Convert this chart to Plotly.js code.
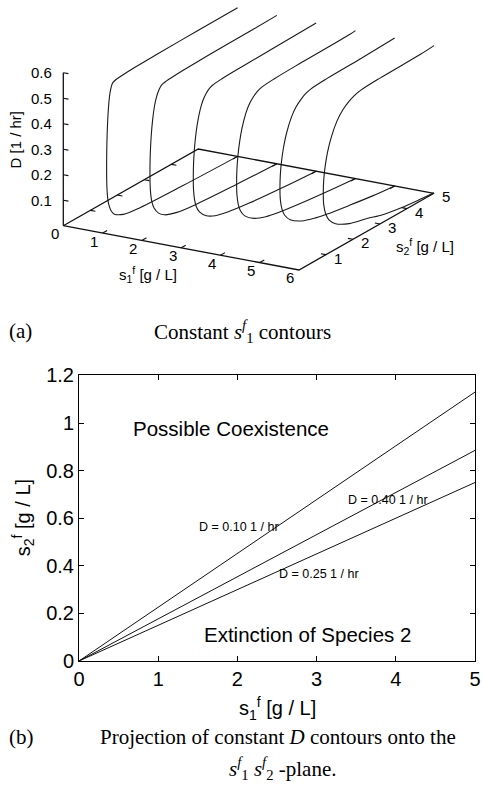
<!DOCTYPE html>
<html><head><meta charset="utf-8">
<script src="https://cdn.plot.ly/plotly-3.0.1.min.js"></script>
<style>html,body{margin:0;padding:0;background:#fff}#chart{width:483px;height:788px}</style>
</head><body><div id="chart"></div>
<script>
// ================= DATA =================
// ---- (a) constant s1f contours in (s1f, s2f, D) space ----
const s1Levels = [1, 2, 3, 4, 5, 6];                      // s1f of each contour [g/L]
// lower branch of each contour, from the back edge (s2f = 5) down to the bottom of the curve
const lowerS2 = [[5, 3.0, 1.4, 0.77], [5, 3.5, 2.0, 1.3], [5, 3.8, 2.5, 1.7],
                 [5, 4.0, 3.0, 2.1], [5, 4.2, 3.3, 2.5], [5, 4.4, 3.74, 3.1]];
const lowerD  = [[0, 0.007, 0.016, 0.027], [0, 0.009, 0.021, 0.032], [0, 0.010, 0.024, 0.037],
                 [0, 0.011, 0.024, 0.039], [0, 0.010, 0.025, 0.040], [0.002, 0.008, 0.017, 0.030]];
// rest of each contour (vertical part and upper branch): D and the ratio s2f / s1f
const profileD     = [0.05, 0.07, 0.10, 0.13, 0.16, 0.20, 0.25, 0.30, 0.35, 0.40, 0.45, 0.50, 0.53,
                      0.55, 0.56, 0.567, 0.572, 0.575, 0.578, 0.580, 0.582];
const profileRatio = [0.42, 0.31, 0.226, 0.185, 0.165, 0.153, 0.150, 0.153, 0.162, 0.177, 0.200, 0.235, 0.270,
                      0.310, 0.340, 0.380, 0.500, 0.750, 1.200, 2.000, 3.500];
const upperEndD = [0.583, 0.582, 0.581, 0.580, 0.580, 0.579];  // D where each contour leaves the box (s2f = 5)
const s1Range = [0, 6];
const s2Range = [0, 5];
const dRange  = [0, 0.6];
const s1TickVals = [0, 1, 2, 3, 4, 5, 6];
const s2TickVals = [1, 2, 3, 4, 5];
const dTickVals  = [0.1, 0.2, 0.3, 0.4, 0.5, 0.6];

// ---- (b) projection of constant D contours onto the s1f-s2f plane ----
const lineLabels = ['D = 0.10 1 / hr', 'D = 0.40 1 / hr', 'D = 0.25 1 / hr'];
const lineS1     = [0, 5];
const lineS2End  = [1.13, 0.885, 0.75];                   // s2f reached at s1f = 5
const labelS1    = [2.02, 3.90, 3.03];
const labelS2    = [0.564, 0.676, 0.364];

// ================= 3-D view (orthographic projection onto a hidden 2-D axis pair) =================
const EX = [39.28, 7.38];    // screen step per unit s1f (right, down)
const EY = [27.0, -15.34];   // screen step per unit s2f
const EZ = 255;              // screen step (up) per unit D
function P(s1, s2, d) { return [s1 * EX[0] + s2 * EY[0], -(s1 * EX[1] + s2 * EY[1]) + d * EZ]; }
function addPath(xs, ys, pts) { pts.forEach(p => { const q = P(p[0], p[1], p[2]); xs.push(q[0]); ys.push(q[1]); }); xs.push(null); ys.push(null); }

const sans = 'Liberation Sans, Arial, sans-serif';
const serif = 'Liberation Serif, Times New Roman, serif';
const traces = [];

// contours
s1Levels.forEach((s1, i) => {
  const pts = [];
  lowerS2[i].forEach((s2, j) => pts.push([s1, s2, lowerD[i][j]]));
  profileD.forEach((d, j) => { const s2 = s1 * profileRatio[j]; if (s2 < s2Range[1]) pts.push([s1, s2, d]); });
  pts.push([s1, s2Range[1], upperEndD[i]]);
  const xs = [], ys = [];
  pts.forEach(p => { const q = P(p[0], p[1], p[2]); xs.push(q[0]); ys.push(q[1]); });
  traces.push({type: 'scatter', mode: 'lines', x: xs, y: ys, xaxis: 'x2', yaxis: 'y2',
    line: {color: '#1a1a1a', width: 1.1, shape: 'spline', smoothing: 0.9}, hoverinfo: 'skip'});
});

// base frame, vertical D axis and tick marks
const fx = [], fy = [];
addPath(fx, fy, [[s1Range[0], s2Range[0], 0], [s1Range[1], s2Range[0], 0], [s1Range[1], s2Range[1], 0],
                 [s1Range[0], s2Range[1], 0], [s1Range[0], s2Range[0], 0]]);
addPath(fx, fy, [[s1Range[0], s2Range[0], dRange[0]], [s1Range[0], s2Range[0], dRange[1]]]);
traces.push({type: 'scatter', mode: 'lines', x: fx, y: fy, xaxis: 'x2', yaxis: 'y2',
  line: {color: '#111', width: 1.3}, hoverinfo: 'skip'});
const tx = [], ty = [];
const tl1 = 0.13, tl2 = 0.17, tlD = 0.13;
s1TickVals.filter(v => v > s1Range[0] && v < s1Range[1]).forEach(v => {
  addPath(tx, ty, [[v, s2Range[0], 0], [v, s2Range[0] + tl2, 0]]);
  addPath(tx, ty, [[v, s2Range[1], 0], [v, s2Range[1] - tl2, 0]]);
});
s2TickVals.filter(v => v > s2Range[0] && v < s2Range[1]).forEach(v => {
  addPath(tx, ty, [[s1Range[1], v, 0], [s1Range[1] - tl1, v, 0]]);
  addPath(tx, ty, [[s1Range[0], v, 0], [s1Range[0] + tl1, v, 0]]);
});
dTickVals.forEach(v => addPath(tx, ty, [[s1Range[0], s2Range[0], v], [s1Range[0] + tlD, s2Range[0], v]]));
traces.push({type: 'scatter', mode: 'lines', x: tx, y: ty, xaxis: 'x2', yaxis: 'y2',
  line: {color: '#111', width: 1.1}, hoverinfo: 'skip'});

// (b) lines
lineS2End.forEach(e => traces.push({type: 'scatter', mode: 'lines', x: lineS1, y: [0, e], xaxis: 'x', yaxis: 'y',
  line: {color: '#111', width: 1}, hoverinfo: 'skip'}));

// ================= texts =================
const annotations = [];
function lab3(pt, text, xs, ys, opts) {
  const q = P(pt[0], pt[1], pt[2]);
  annotations.push(Object.assign({xref: 'x2', yref: 'y2', x: q[0], y: q[1], xshift: xs, yshift: ys, text: text,
    showarrow: false, font: {family: sans, size: 15, color: '#000'}}, opts || {}));
}
s1TickVals.forEach(v => lab3([v, s2Range[0], 0], String(v), -8.5, -8));
s2TickVals.forEach(v => lab3([s1Range[1], v, 0], String(v), 12.5, -3.5));
dTickVals.forEach(v => lab3([s1Range[0], s2Range[0], v], v.toFixed(1), -9.5, 0, {xanchor: 'right'}));
lab3([s1Range[0], s2Range[0], (dRange[0] + dRange[1]) / 2], 'D [1 / hr]', -48, 10, {textangle: -90});
lab3([(s1Range[0] + s1Range[1]) / 2, s2Range[0], 0], 's<sub>1</sub><sup>f</sup> [g / L]', -33, -27);
lab3([s1Range[1], (s2Range[0] + s2Range[1]) / 2, 0], 's<sub>2</sub><sup>f</sup> [g / L]', 59, -15);

lineLabels.forEach((t, i) => annotations.push({xref: 'x', yref: 'y', x: labelS1[i], y: labelS2[i], text: t,
  showarrow: false, font: {family: sans, size: 12.5, color: '#000'}}));
annotations.push({xref: 'x', yref: 'y', x: 1.925, y: 0.979, text: 'Possible Coexistence', showarrow: false,
  font: {family: sans, size: 20.5, color: '#000'}});
annotations.push({xref: 'x', yref: 'y', x: 2.89, y: 0.113, text: 'Extinction of Species 2', showarrow: false,
  font: {family: sans, size: 20.5, color: '#000'}});
// axis titles of (b)
annotations.push({xref: 'x domain', yref: 'paper', x: 0.5, y: 1 - 708 / 788, yanchor: 'middle',
  text: 's<sub>1</sub><sup>f</sup> [g / L]', showarrow: false, font: {family: sans, size: 20, color: '#000'}});
annotations.push({xref: 'paper', yref: 'y domain', x: 23 / 483, y: 0.5, xanchor: 'center', textangle: -90,
  text: 's<sub>2</sub><sup>f</sup> [g / L]', showarrow: false, font: {family: sans, size: 20, color: '#000'}});
const cap = (x, y, t, xa) => ({xref: 'paper', yref: 'paper', x: x / 483, y: 1 - y / 788, text: t, showarrow: false,
  xanchor: xa, yanchor: 'middle', font: {family: serif, size: 21, color: '#000'}});
annotations.push(cap(7, 331, '(a)', 'left'));
annotations.push(cap(242, 331, 'Constant <i>s</i><sup><i>f</i></sup><sub>1</sub> contours', 'center'));
annotations.push(cap(7, 737, '(b)', 'left'));
annotations.push(cap(278, 737, 'Projection of constant <i>D</i> contours onto the', 'center'));
annotations.push(cap(282, 768, '<i>s</i><sup><i>f</i></sup><sub>1</sub> <i>s</i><sup><i>f</i></sup><sub>2</sub> -plane.', 'center'));

const layout = {
  width: 483, height: 788, margin: {l: 0, r: 0, t: 0, b: 0},
  paper_bgcolor: '#fff', plot_bgcolor: 'rgba(0,0,0,0)', hovermode: false, showlegend: false,
  font: {family: sans, color: '#000'},
  xaxis2: {domain: [0, 1], range: [-63.3, 419.7], visible: false, fixedrange: true, anchor: 'y2'},
  yaxis2: {domain: [1 - 345 / 788, 1], range: [-119.3, 225.7], visible: false, fixedrange: true, anchor: 'x2'},
  xaxis: {domain: [79 / 483, 475 / 483], anchor: 'y', range: [0, 5], dtick: 1, tick0: 0,
    showline: true, mirror: 'ticks', linecolor: '#000', linewidth: 1, ticks: 'inside', ticklen: 5, tickcolor: '#000',
    showgrid: false, zeroline: false, tickfont: {family: sans, size: 20, color: '#000'}},
  yaxis: {domain: [1 - 661 / 788, 1 - 375.4 / 788], anchor: 'x', range: [0, 1.2], dtick: 0.2, tick0: 0,
    showline: true, mirror: 'ticks', linecolor: '#000', linewidth: 1, ticks: 'inside', ticklen: 5, tickcolor: '#000',
    showgrid: false, zeroline: false, tickfont: {family: sans, size: 20, color: '#000'}},
  annotations: annotations
};
Plotly.newPlot('chart', traces, layout, {staticPlot: true, displayModeBar: false});
</script></body></html>
